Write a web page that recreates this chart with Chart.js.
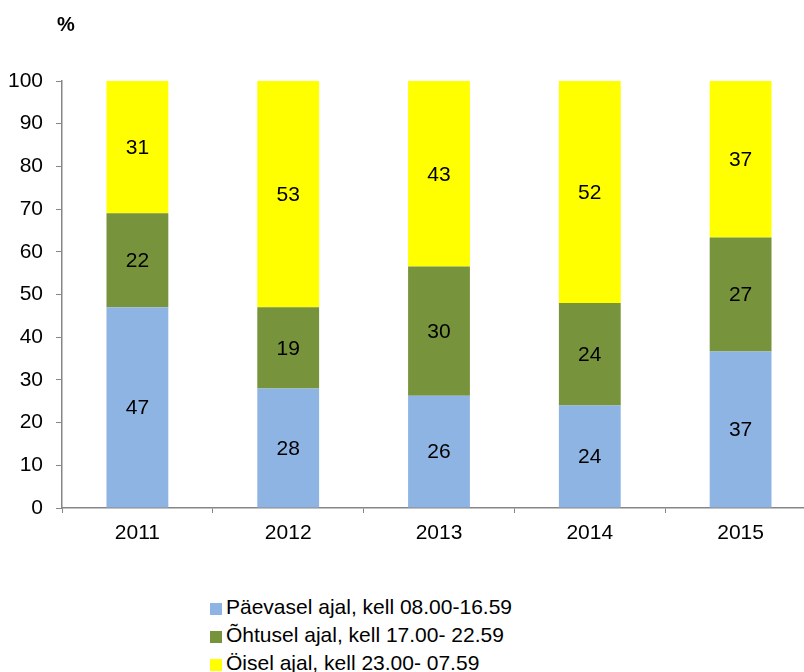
<!DOCTYPE html>
<html>
<head>
  <meta charset="utf-8">
  <title>Päev / õhtu / öö</title>
  <script src="https://cdn.jsdelivr.net/npm/chart.js"></script>
  <style>
    html, body { margin: 0; padding: 0; background: #fff; overflow: hidden; }
    #wrap { position: relative; width: 830px; height: 672px; }
    #legend {
      position: absolute; left: 210px; top: 593px;
      font-family: "Liberation Sans", Arial, sans-serif; font-size: 21px; color: #000;
    }
    .item { height: 28px; line-height: 28px; white-space: nowrap; }
    .box { display: inline-block; width: 12px; height: 12px; margin-right: 4px; vertical-align: -1px; }
  </style>
</head>
<body>
  <div id="wrap">
    <canvas id="chart" width="830" height="560"></canvas>
    <div id="legend"></div>
  </div>

  <script>
    const years = ['2011', '2012', '2013', '2014', '2015'];
    const seriesNames = [
      'Päevasel ajal, kell 08.00-16.59',
      'Õhtusel ajal, kell 17.00- 22.59',
      'Öisel ajal, kell 23.00- 07.59'
    ];
    const day     = [47, 28, 26, 24, 37];
    const evening = [22, 19, 30, 24, 27];
    const night   = [31, 53, 43, 52, 37];
    const colors  = ['#8EB4E3', '#77933C', '#FFFF00'];
    const yTicks  = [0, 10, 20, 30, 40, 50, 60, 70, 80, 90, 100];

    const font = "'Liberation Sans', Arial, sans-serif";
    const raw = [day, evening, night];

    // bars are drawn as a 100% stack, labels show the raw numbers
    const totals = years.map((_, i) => day[i] + evening[i] + night[i]);
    const pct = raw.map(arr => arr.map((v, i) => v / totals[i] * 100));

    const valueLabels = {
      id: 'valueLabels',
      afterDatasetsDraw(chart) {
        const ctx = chart.ctx;
        ctx.save();
        ctx.font = '21px ' + font;
        ctx.fillStyle = '#000';
        ctx.textAlign = 'center';
        ctx.textBaseline = 'middle';
        chart.data.datasets.forEach((ds, di) => {
          chart.getDatasetMeta(di).data.forEach((bar, i) => {
            const yMid = (bar.y + bar.base) / 2;
            ctx.fillText(String(raw[di][i]), bar.x, yMid + 1);
          });
        });
        ctx.restore();
      }
    };

    const unitLabel = {
      id: 'unitLabel',
      afterDraw(chart) {
        const ctx = chart.ctx;
        ctx.save();
        ctx.font = 'bold 20px ' + font;
        ctx.fillStyle = '#000';
        ctx.textBaseline = 'middle';
        ctx.fillText('%', 57, 25);
        ctx.restore();
      }
    };

    let chart;
    window.onload = () => {
      const ctx = document.getElementById('chart').getContext('2d');
      chart = new Chart(ctx, {
        type: 'bar',
        data: {
          labels: years,
          datasets: seriesNames.map((name, k) => ({
            label: name,
            data: pct[k],
            backgroundColor: colors[k],
            borderWidth: 0,
            barPercentage: 0.41,
            categoryPercentage: 1
          }))
        },
        options: {
          responsive: false,
          animation: false,
          layout: { padding: { top: 81, left: 0, right: 14, bottom: 0 } },
          plugins: {
            legend: { display: false },
            tooltip: { enabled: false }
          },
          scales: {
            x: {
              stacked: true,
              afterFit(scale) { scale.height = 52; },
              grid: {
                drawOnChartArea: false, drawTicks: true, tickLength: 5,
                color: '#868686', lineWidth: 1
              },
              border: { color: '#868686', width: 1.5 },
              ticks: { color: '#000', font: { family: font, size: 21 }, padding: 8 }
            },
            y: {
              stacked: true,
              min: 0, max: 100,
              afterFit(scale) { scale.width = 62; },
              afterBuildTicks(scale) { scale.ticks = yTicks.map(v => ({ value: v })); },
              grid: {
                drawOnChartArea: false, drawTicks: true, tickLength: 6,
                color: '#868686', lineWidth: 1
              },
              border: { color: '#868686', width: 1.5 },
              ticks: { color: '#000', font: { family: font, size: 21 }, padding: 13 }
            }
          }
        },
        plugins: [valueLabels, unitLabel]
      });

      const legend = document.getElementById('legend');
      seriesNames.forEach((name, k) => {
        const row = document.createElement('div');
        row.className = 'item';
        row.innerHTML = '<span class="box" style="background:' + colors[k] + '"></span>' + name;
        legend.appendChild(row);
      });
    };
  </script>
</body>
</html>
